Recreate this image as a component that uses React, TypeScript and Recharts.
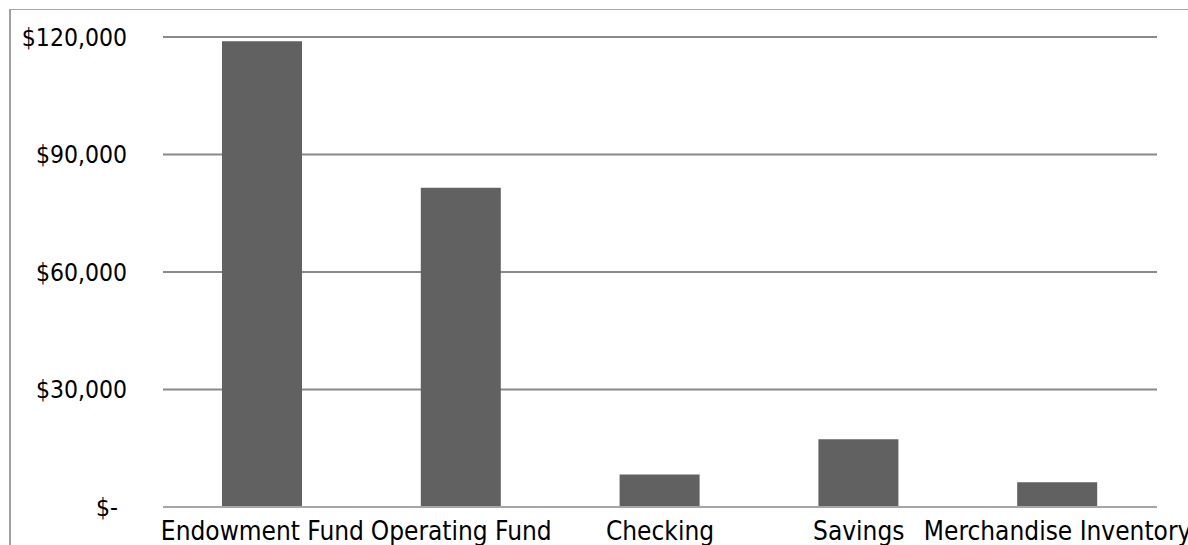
import React from "react";
import { BarChart, Bar, XAxis, YAxis, CartesianGrid } from "recharts";

const categories = ["Endowment Fund", "Operating Fund", "Checking", "Savings", "Merchandise Inventory"];
const amounts = [118900, 81500, 8300, 17300, 6300];
const yTicks = [0, 30000, 60000, 90000, 120000];

const data = categories.map((name, i) => ({ name, value: amounts[i] }));

const FONT = "'DejaVu Sans Condensed', 'DejaVu Sans', sans-serif";

const fmt = (v: number) => (v === 0 ? "$-" : "$" + v.toLocaleString("en-US"));

const YTick = (props: any) => {
  const { x, y, payload } = props;
  const v = payload.value as number;
  return (
    <text
      x={v === 0 ? x - 9 : x}
      y={y}
      dy="0.355em"
      textAnchor="end"
      fontFamily={FONT}
      fontSize={24.5}
      fill="#000"
    >
      {fmt(v)}
    </text>
  );
};

const XTick = (props: any) => {
  const { x, y, payload } = props;
  return (
    <text x={x} y={y} dy="0.71em" textAnchor="middle" fontFamily={FONT} fontSize={26} fill="#000">
      {payload.value}
    </text>
  );
};

export default function App() {
  return (
    <div style={{ position: "absolute", left: 0, top: 0, width: 1188, height: 545, overflow: "hidden", background: "#fff" }}>
      <div
        style={{
          position: "absolute",
          left: 9,
          top: 9,
          width: 1300,
          height: 700,
          borderLeft: "2px solid #a0a0a0",
          borderTop: "1px solid #a8a8a8",
        }}
      />
      <div style={{ position: "absolute", left: 0, top: 0 }}>
        <BarChart
          width={1188}
          height={545}
          data={data}
          margin={{ top: 37, right: 31, bottom: 0, left: 0 }}
          barCategoryGap="30%"
        >
          <CartesianGrid vertical={false} stroke="#8a8a8a" strokeWidth={2} />
          <YAxis
            width={163}
            domain={[0, 120000]}
            ticks={yTicks}
            axisLine={false}
            tickLine={false}
            tickSize={0}
            tickMargin={36}
            tick={<YTick />}
            interval={0}
          />
          <XAxis
            dataKey="name"
            height={38}
            axisLine={{ stroke: "#a6a6a6", strokeWidth: 2 }}
            tickLine={false}
            tickSize={0}
            tickMargin={15}
            tick={<XTick />}
            interval={0}
          />
          <Bar dataKey="value" fill="#616161" barSize={80} isAnimationActive={false} />
        </BarChart>
      </div>
    </div>
  );
}
